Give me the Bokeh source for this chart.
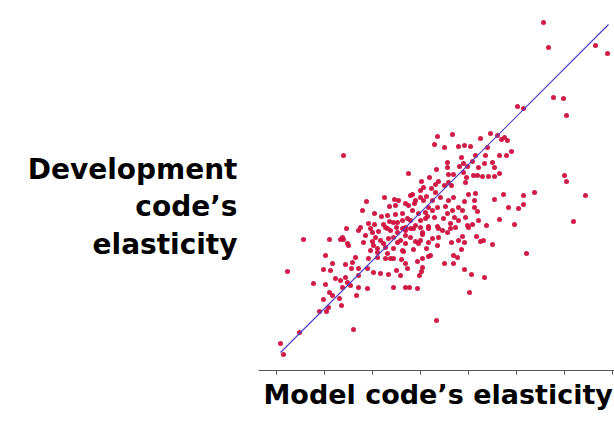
from bokeh.plotting import figure
from bokeh.models import Range1d, FixedTicker, Label
from bokeh.embed import file_html
from bokeh.resources import INLINE

# Model code's elasticity (x) vs development code's elasticity (y)
model_x = [
    2.67, 2.72, 3.19, 3.31, 2.77, 2.87, 2.90, 2.41, 2.47,
    0.67, 0.90, 1.08, 1.18, 0.86, 0.98, 1.13, 1.05, 1.11, 1.19, 0.98, 1.07, 1.13, 0.70, 0.84, 0.94, 1.09, 1.20,
    1.61, 1.76, 1.58, 1.68, 1.82, 1.88, 1.94, 2.04, 2.14, 2.21,
    2.25, 2.28, 2.31, 2.23, 2.30, 2.35, 2.11, 2.09, 2.16, 2.18,
    1.99, 1.85, 1.96, 1.87, 1.71, 1.71, 1.60, 1.83, 1.91, 2.02,
    2.08, 1.32, 1.72, 1.77, 1.87, 1.90, 1.97, 2.01, 2.06, 2.12,
    2.18, 2.23, 1.45, 1.53, 1.62, 1.72, 1.89, 1.47, 1.55, 1.59,
    1.68, 1.75, 1.92, 1.99, 2.18, 2.27, 2.47, 2.58, 2.88, 2.90,
    3.09, 2.97, 2.47, 2.42, 2.32, 2.23, 2.10, 2.38, 1.96, 1.91,
    2.02, 2.01, 1.98, 1.98, 1.88, 1.82, 1.86, 1.78, 1.67, 1.58,
    1.51, 1.44, 1.34, 1.26, 1.32, 1.38, 1.44, 1.36, 1.50, 1.56,
    1.64, 1.72, 1.77, 1.69, 1.61, 1.52, 1.76, 1.71, 1.89, 1.82,
    1.74, 1.61, 1.52, 1.39, 1.29, 1.21, 1.22,
    0.27, 0.53, 0.64, 0.67, 0.72, 1.02, 1.11, 1.21, 0.87, 0.96,
    1.04, 1.12, 1.21, 0.94, 1.01, 1.09, 1.17, 0.92, 1.01, 1.09,
    1.17, 0.49, 0.56, 0.47, 0.54, 0.69, 0.76, 0.79, 0.75, 0.82,
    0.91, 0.97, 1.04, 1.12, 0.11, 0.37, 0.49, 0.59, 0.64, 0.69,
    0.71, 0.74, 0.82, 0.82, 0.91, 1.17, 0.66, 0.53, 0.56, 0.80,
    0.63, 0.65, 0.47, 0.52, 0.50, 0.43, 0.77, 0.23, 0.07, 0.04,
    1.27, 1.37, 1.46, 1.50, 1.52, 1.41, 1.29, 1.25, 1.31, 1.46,
    1.45, 1.43, 1.24, 1.20, 1.29, 1.33, 1.41, 1.68, 1.77, 1.81,
    1.77, 1.75, 1.82, 1.86, 1.88, 1.85, 1.88, 1.95, 2.08, 1.93,
    1.60, 2.00, 2.04, 2.07, 2.16, 2.50, 1.56, 1.62, 1.44, 1.39,
    1.34, 1.24, 1.29, 1.37, 1.46, 1.52, 1.66, 1.71, 1.74, 1.79,
    1.92,
    1.19, 1.29, 1.34, 1.44, 1.59, 1.39, 1.47, 1.36, 1.42, 1.49,
    1.56, 1.31, 1.49, 0.92, 1.17, 1.26, 0.82, 0.96, 1.14, 1.26,
    1.34, 1.44, 1.62, 0.89, 0.99, 1.17, 1.29, 1.46, 0.71, 0.97,
    1.07, 1.29, 1.42, 1.52, 1.61, 1.01, 1.11, 1.26, 0.66, 1.14,
    1.54,
]
dev_y = [
    3.34, 3.09, 3.11, 3.03, 2.59, 2.58, 2.41, 2.50, 2.48,
    2.01, 1.55, 1.59, 1.57, 1.46, 1.43, 1.50, 1.40, 1.41, 1.42, 1.32, 1.32, 1.35, 1.28, 1.29, 1.28, 1.29, 1.29,
    2.20, 2.22, 2.12, 2.09, 2.10, 2.11, 2.10, 2.18, 2.23, 2.21,
    2.17, 2.19, 2.16, 2.01, 2.01, 2.05, 2.09, 2.01, 1.94, 1.89,
    2.01, 1.99, 1.95, 1.93, 1.94, 1.89, 1.87, 1.90, 1.90, 1.89,
    1.93, 1.83, 1.82, 1.82, 1.84, 1.79, 1.81, 1.81, 1.80, 1.80,
    1.80, 1.83, 1.75, 1.79, 1.75, 1.74, 1.74, 1.69, 1.68, 1.72,
    1.71, 1.71, 1.62, 1.63, 1.57, 1.62, 1.61, 1.64, 1.81, 1.75,
    1.61, 1.35, 1.52, 1.48, 1.49, 1.37, 1.31, 1.32, 1.32, 1.31,
    1.36, 1.45, 1.49, 1.56, 1.55, 1.49, 1.46, 1.39, 1.38, 1.39,
    1.40, 1.36, 1.36, 1.43, 1.51, 1.53, 1.59, 1.62, 1.60, 1.56,
    1.59, 1.56, 1.59, 1.50, 1.49, 1.49, 1.46, 1.43, 1.39, 1.36,
    1.33, 1.30, 1.30, 1.31, 1.29, 1.34, 1.56,
    1.17, 1.17, 1.17, 1.17, 1.11, 1.25, 1.28, 1.24, 1.14, 1.15,
    1.16, 1.18, 1.14, 1.06, 1.08, 1.09, 1.08, 0.98, 0.99, 0.98,
    0.98, 1.01, 0.93, 0.87, 0.86, 0.92, 0.94, 0.99, 0.88, 0.88,
    0.88, 0.84, 0.83, 0.82, 0.85, 0.73, 0.72, 0.78, 0.76, 0.79,
    0.74, 0.71, 0.69, 0.81, 0.68, 0.69, 0.69, 0.64, 0.61, 0.61,
    0.58, 0.51, 0.57, 0.49, 0.45, 0.45, 0.27, 0.24, 0.02, 0.13,
    1.05, 1.07, 0.98, 1.08, 1.00, 0.95, 0.93, 0.97, 0.88, 0.89,
    0.85, 0.81, 0.81, 0.86, 0.69, 0.69, 0.68, 0.93, 1.01, 0.99,
    0.93, 1.14, 1.16, 1.20, 1.14, 1.07, 0.87, 0.82, 0.79, 0.64,
    0.36, 1.20, 1.15, 1.16, 1.12, 1.03, 1.18, 1.19, 1.16, 1.15,
    1.19, 1.16, 1.26, 1.28, 1.24, 1.28, 1.26, 1.24, 1.28, 1.29,
    1.29,
    1.51, 1.53, 1.61, 1.66, 1.64, 1.56, 1.56, 1.46, 1.43, 1.44,
    1.46, 1.38, 1.38, 1.33, 1.34, 1.36, 1.26, 1.24, 1.26, 1.28,
    1.28, 1.29, 1.28, 1.21, 1.19, 1.19, 1.21, 1.22, 1.13, 1.11,
    1.13, 1.13, 1.13, 1.14, 1.11, 1.04, 1.03, 1.06, 1.19, 0.98,
    1.01,
]

# 45-degree reference line (equal elasticity)
fit_x = [0.04, 3.32]
fit_y = [0.04, 3.32]

tick_x = [0.0, 0.48, 0.96, 1.44, 1.92, 2.40, 2.88, 3.36]
axis_bounds = (-0.18, 3.38)
axis_y = -0.14

x_title = "Model code\u2019s elasticity"
y_title_lines = ["Development", "code\u2019s", "elasticity"]
y_title_baselines = [1.87, 1.50, 1.12]

FONT = "DejaVu Sans"

p = figure(width=614, height=432,
           x_range=Range1d(-2.76, 3.38), y_range=Range1d(-0.56, 3.56),
           output_backend="svg", toolbar_location=None,
           min_border_left=0, min_border_right=0,
           min_border_top=0, min_border_bottom=20)
p.background_fill_color = "white"
p.border_fill_color = "white"
p.outline_line_color = None
p.grid.visible = False
p.yaxis.visible = False

ax = p.xaxis[0]
ax.fixed_location = axis_y
ax.bounds = axis_bounds
ax.ticker = FixedTicker(ticks=tick_x)
ax.major_label_text_color = None
ax.major_label_text_font_size = "1px"
ax.major_label_standoff = 0
ax.minor_tick_line_color = None
ax.major_tick_in = 0
ax.major_tick_out = 4
ax.major_tick_line_color = "#555555"
ax.axis_line_color = "#555555"

p.scatter(model_x, dev_y, size=5, color="#d0103e", line_color=None, alpha=0.95)
p.line(fit_x, fit_y, line_color="#4a3fc4", line_width=1.2)

p.add_layout(Label(x=-0.13, y=-0.38, text=x_title, text_align="left",
                   text_baseline="alphabetic", text_font=FONT,
                   text_font_style="bold", text_font_size="27px",
                   text_color="black"))
for line, yb in zip(y_title_lines, y_title_baselines):
    p.add_layout(Label(x=-0.39, y=yb, text=line, text_align="right",
                       text_baseline="alphabetic", text_font=FONT,
                       text_font_style="bold", text_font_size="28px",
                       text_color="black"))

open("out.html", "w").write(file_html(p, INLINE))
